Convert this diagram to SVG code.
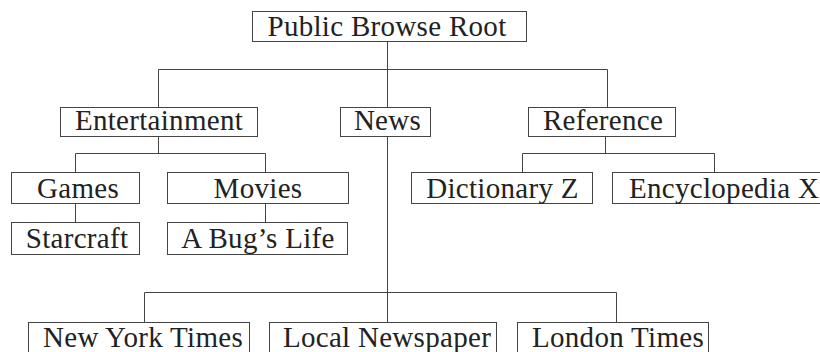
<svg xmlns="http://www.w3.org/2000/svg" width="820" height="352" viewBox="0 0 820 352">
<style>
rect.box{fill:#ffffff;stroke:#444444;stroke-width:1}
text{font-family:"Liberation Serif","Times New Roman",serif;font-size:29px;letter-spacing:0.3px;fill:#222222;text-anchor:middle}
#connectors path{fill:none;stroke:#444444;stroke-width:1}
</style>
<rect width="820" height="352" fill="#ffffff"/>
<g id="connectors">
<path d="M387.5 41V322.5"/>
<path d="M158.5 107V69.5H607.5V107"/>
<path d="M158.5 137V153.5M75.5 172.5V153.5H265.5V172.5"/>
<path d="M75.5 204V222.5M265.5 204V222.5"/>
<path d="M605.5 137V153.5M522.5 172.5V153.5H714.5V172.5"/>
<path d="M144.5 322.5V292.5H616.5V322.5"/>
</g>
<g id="root"><rect class="box" x="252.5" y="11.5" width="274" height="30"/><text x="387" y="36">Public Browse Root</text></g>
<g id="entertainment"><rect class="box" x="60.5" y="107.5" width="197" height="29"/><text x="159" y="130">Entertainment</text></g>
<g id="news"><rect class="box" x="340.5" y="107.5" width="90" height="29"/><text x="387.5" y="130">News</text></g>
<g id="reference"><rect class="box" x="528.5" y="107.5" width="147" height="29"/><text x="603" y="130">Reference</text></g>
<g id="games"><rect class="box" x="11.5" y="172.5" width="128" height="31"/><text x="78" y="198">Games</text></g>
<g id="movies"><rect class="box" x="167.5" y="172.5" width="181" height="31"/><text x="258" y="198">Movies</text></g>
<g id="dictionary"><rect class="box" x="411.5" y="172.5" width="181" height="31"/><text x="502.5" y="198">Dictionary Z</text></g>
<g id="encyclopedia"><rect class="box" x="612.5" y="172.5" width="224" height="31"/><text x="629" y="198" style="text-anchor:start">Encyclopedia X</text></g>
<g id="starcraft"><rect class="box" x="11.5" y="222.5" width="128" height="32"/><text x="77" y="248">Starcraft</text></g>
<g id="bugslife"><rect class="box" x="167.5" y="222.5" width="180" height="32"/><text x="258" y="248">A Bug’s Life</text></g>
<g id="nyt"><rect class="box" x="28.5" y="322.5" width="221" height="40"/><text x="143" y="347">New York Times</text></g>
<g id="local"><rect class="box" x="269.5" y="322.5" width="227" height="40"/><text x="387" y="347">Local Newspaper</text></g>
<g id="london"><rect class="box" x="517.5" y="322.5" width="191" height="40"/><text x="618" y="347">London Times</text></g>
</svg>
